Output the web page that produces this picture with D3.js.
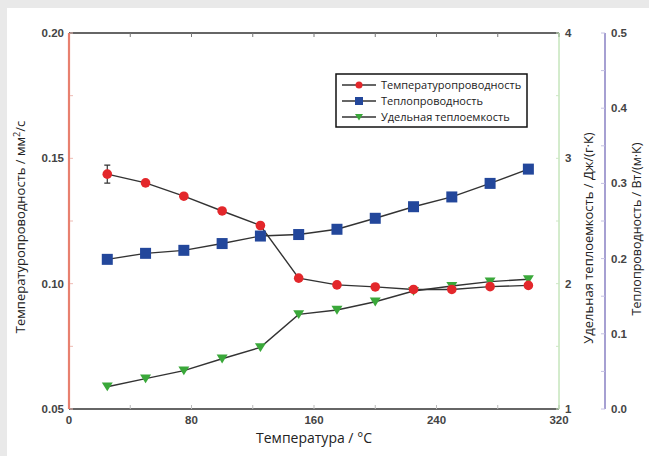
<!DOCTYPE html>
<html lang="ru">
<head>
<meta charset="UTF-8">
<title>Теплофизические свойства</title>
<style>
  body { margin: 0; background: #e9e9e9; }
  svg { display: block; }
  .tick-label { font-family: "Liberation Sans", Arial, sans-serif; font-weight: bold; font-size: 11.5px; fill: #444; }
  .title { font-family: "Open Sans", "Noto Sans", sans-serif; font-size: 13px; fill: #222; }
  .legend-text { font-family: "Open Sans", "Noto Sans", sans-serif; font-size: 11px; fill: #222; }
</style>
</head>
<body>
<script src="https://cdn.jsdelivr.net/npm/d3@7"></script>
<script>
const temps = [25, 50, 75, 100, 125, 150, 175, 200, 225, 250, 275, 300];
const diffusivity = [0.1437, 0.1402, 0.1349, 0.1290, 0.1232, 0.1022, 0.0995, 0.0987, 0.0977, 0.0977, 0.0988, 0.0993];
const diffError = [0.0036, 0, 0, 0, 0, 0, 0, 0, 0, 0, 0, 0];
const conductivity = [0.199, 0.207, 0.211, 0.220, 0.230, 0.232, 0.239, 0.2536, 0.269, 0.282, 0.300, 0.319];
const heatCapacity = [1.178, 1.242, 1.306, 1.401, 1.492, 1.755, 1.790, 1.856, 1.941, 1.981, 2.016, 2.035];

const xTicks = [0, 80, 160, 240, 320];
const leftTicks = [0.05, 0.10, 0.15, 0.20];
const greenTicks = [1, 2, 3, 4];
const purpleTicks = [0.0, 0.1, 0.2, 0.3, 0.4, 0.5];

const names = ['Температуропроводность', 'Теплопроводность', 'Удельная теплоемкость'];

const w = 649, h = 456;
const mLeft = 69, mRight = 559, mTop = 33, mBottom = 409;
const purpleX = 605;

const red = '#e3272b', blue = '#23479b', green = '#3aa83a';

const svg = d3.select('body').append('svg').attr('width', w).attr('height', h);
svg.append('rect').attr('x', 7).attr('y', 8).attr('width', w - 7).attr('height', h - 8).attr('fill', '#fff');

const x = d3.scaleLinear().domain([0, 320]).range([mLeft, mRight]);
const yL = d3.scaleLinear().domain([0.05, 0.20]).range([mBottom, mTop]);
const yG = d3.scaleLinear().domain([1, 4]).range([mBottom, mTop]);
const yP = d3.scaleLinear().domain([0, 0.5]).range([mBottom, mTop]);

// frame: top and bottom black
svg.append('line').attr('x1', mLeft).attr('x2', mRight).attr('y1', mTop).attr('y2', mTop).attr('stroke', '#333').attr('stroke-width', 1.5);
svg.append('line').attr('x1', mLeft).attr('x2', mRight).attr('y1', mBottom).attr('y2', mBottom).attr('stroke', '#333').attr('stroke-width', 1.5);

// minor ticks on x (every 40), inward at top and bottom
d3.range(0, 321, 40).forEach(v => {
  svg.append('line').attr('x1', x(v)).attr('x2', x(v)).attr('y1', mTop).attr('y2', mTop + 4).attr('stroke', '#777').attr('stroke-width', 1);
  svg.append('line').attr('x1', x(v)).attr('x2', x(v)).attr('y1', mBottom).attr('y2', mBottom - 4).attr('stroke', '#bbb').attr('stroke-width', 1);
});

// left axis (red)
svg.append('line').attr('x1', mLeft).attr('x2', mLeft).attr('y1', mTop).attr('y2', mBottom).attr('stroke', '#e8806f').attr('stroke-width', 2.2);
d3.range(0.05, 0.2001, 0.025).forEach(v => {
  svg.append('line').attr('x1', mLeft + 1).attr('x2', mLeft + 4).attr('y1', yL(v)).attr('y2', yL(v)).attr('stroke', '#eebbb3');
});
svg.selectAll('.lt').data(leftTicks).enter().append('text')
  .attr('class', 'tick-label').attr('x', mLeft - 5).attr('y', d => yL(d) + 4)
  .attr('text-anchor', 'end').text(d => d.toFixed(2));

// green axis
svg.append('line').attr('x1', mRight).attr('x2', mRight).attr('y1', mTop).attr('y2', mBottom).attr('stroke', '#a8d89a').attr('stroke-width', 1);
d3.range(1, 4.01, 0.5).forEach(v => {
  svg.append('line').attr('x1', mRight - 3).attr('x2', mRight).attr('y1', yG(v)).attr('y2', yG(v)).attr('stroke', '#cde8c4');
});
svg.selectAll('.gt').data(greenTicks).enter().append('text')
  .attr('class', 'tick-label').attr('x', mRight + 6).attr('y', d => yG(d) + 4).text(d => d);

// purple axis
svg.append('line').attr('x1', purpleX).attr('x2', purpleX).attr('y1', mTop).attr('y2', mBottom).attr('stroke', '#a6a0d2').attr('stroke-width', 2);
d3.range(0, 0.501, 0.05).forEach(v => {
  svg.append('line').attr('x1', purpleX - 4).attr('x2', purpleX).attr('y1', yP(v)).attr('y2', yP(v)).attr('stroke', '#c4c0e2');
});
svg.selectAll('.pt').data(purpleTicks).enter().append('text')
  .attr('class', 'tick-label').attr('x', purpleX + 6).attr('y', d => yP(d) + 4).text(d => d.toFixed(1));

// x tick labels
svg.selectAll('.xt').data(xTicks).enter().append('text')
  .attr('class', 'tick-label').attr('x', d => x(d)).attr('y', mBottom + 15)
  .attr('text-anchor', 'middle').text(d => d);

// titles
svg.append('text').attr('class', 'title').attr('x', 314).attr('y', 443).attr('text-anchor', 'middle').style('font-size', '14px').text('Температура / °C');
svg.append('text').attr('class', 'title').attr('text-anchor', 'middle')
  .attr('transform', `translate(25,${(mTop + mBottom) / 2 + 6}) rotate(-90)`)
  .html('Температуропроводность / мм<tspan dy="-5" font-size="9">2</tspan><tspan dy="5">/с</tspan>');
svg.append('text').attr('class', 'title').attr('text-anchor', 'middle').style('font-size', '13px')
  .attr('transform', `translate(593,${(mTop + mBottom) / 2 + 17}) rotate(-90)`)
  .text('Удельная теплоемкость / Дж/(г·К)');
svg.append('text').attr('class', 'title').attr('text-anchor', 'middle').style('font-size', '12.5px')
  .attr('transform', `translate(641,${(mTop + mBottom) / 2 + 8}) rotate(-90)`)
  .text('Теплопроводность / Вт/(м·К)');

const line = d3.line();

// series: heat capacity (green)
const gPts = temps.map((t, i) => [x(t), yG(heatCapacity[i])]);
svg.append('path').attr('d', line(gPts)).attr('fill', 'none').attr('stroke', '#333').attr('stroke-width', 1.4);
// conductivity (blue)
const bPts = temps.map((t, i) => [x(t), yP(conductivity[i])]);
svg.append('path').attr('d', line(bPts)).attr('fill', 'none').attr('stroke', '#333').attr('stroke-width', 1.4);
// diffusivity (red)
const rPts = temps.map((t, i) => [x(t), yL(diffusivity[i])]);
svg.append('path').attr('d', line(rPts)).attr('fill', 'none').attr('stroke', '#333').attr('stroke-width', 1.4);

// error bars
temps.forEach((t, i) => {
  if (!diffError[i]) return;
  const cx = x(t), y1 = yL(diffusivity[i] + diffError[i]), y2 = yL(diffusivity[i] - diffError[i]);
  svg.append('path').attr('d', `M${cx},${y1}V${y2}M${cx - 3},${y1}H${cx + 3}M${cx - 3},${y2}H${cx + 3}`)
    .attr('stroke', '#333').attr('stroke-width', 1.2).attr('fill', 'none');
});

const tri = s => `M${-s},${-s * 0.75}L${s},${-s * 0.75}L0,${s * 0.85}Z`;

svg.selectAll('.gm').data(gPts).enter().append('path')
  .attr('transform', d => `translate(${d[0]},${d[1]})`).attr('d', tri(5.5)).attr('fill', green);
svg.selectAll('.bm').data(bPts).enter().append('rect')
  .attr('x', d => d[0] - 5.5).attr('y', d => d[1] - 5.5).attr('width', 11).attr('height', 11).attr('fill', blue);
svg.selectAll('.rm').data(rPts).enter().append('circle')
  .attr('cx', d => d[0]).attr('cy', d => d[1]).attr('r', 4.8).attr('fill', red);

// legend
const lg = svg.append('g').attr('transform', 'translate(336,74)');
lg.append('rect').attr('width', 191).attr('height', 53).attr('fill', '#fff').attr('stroke', '#111').attr('stroke-width', 1.5);
names.forEach((n, i) => {
  const yy = 11 + i * 16;
  lg.append('line').attr('x1', 6).attr('x2', 40).attr('y1', yy).attr('y2', yy).attr('stroke', '#333').attr('stroke-width', 1.4);
  if (i === 0) lg.append('circle').attr('cx', 23).attr('cy', yy).attr('r', 3.5).attr('fill', red);
  if (i === 1) lg.append('rect').attr('x', 19).attr('y', yy - 4).attr('width', 8).attr('height', 8).attr('fill', blue);
  if (i === 2) lg.append('path').attr('transform', `translate(23,${yy})`).attr('d', tri(4)).attr('fill', green);
  lg.append('text').attr('class', 'legend-text').attr('x', 45).attr('y', yy + 4).text(n);
});
</script>
</body>
</html>
